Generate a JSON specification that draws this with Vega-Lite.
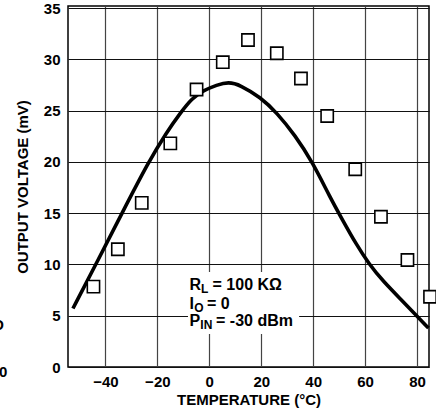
{
  "$schema": "https://vega.github.io/schema/vega-lite/v6.json",
  "width": 361,
  "height": 361,
  "autosize": {"type": "none"},
  "padding": {"left": 68, "top": 6, "right": 7, "bottom": 46},
  "background": "white",
  "config": {
    "font": "Liberation Sans",
    "view": {"stroke": "black", "strokeWidth": 1.5},
    "axis": {
      "labelFont": "Liberation Sans", "labelFontWeight": "bold", "labelFontSize": 15, "labelColor": "black",
      "titleFont": "Liberation Sans", "titleFontWeight": "bold", "titleFontSize": 15, "titleColor": "black",
      "ticks": false, "domain": false, "grid": true
    }
  },
  "datasets": {
    "measured": [
      {"temp": -44.6, "mv": 7.83}, {"temp": -35.2, "mv": 11.48}, {"temp": -26.0, "mv": 16.0},
      {"temp": -15.0, "mv": 21.81}, {"temp": -4.9, "mv": 27.06}, {"temp": 5.2, "mv": 29.72},
      {"temp": 14.9, "mv": 31.88}, {"temp": 26.0, "mv": 30.59}, {"temp": 35.3, "mv": 28.13},
      {"temp": 45.4, "mv": 24.47}, {"temp": 56.2, "mv": 19.28}, {"temp": 66.1, "mv": 14.65},
      {"temp": 76.3, "mv": 10.43}, {"temp": 85.0, "mv": 6.85}
    ],
    "curve": [
      {"temp": -52.5, "mv": 5.7}, {"temp": -43.7, "mv": 10.0}, {"temp": -33.6, "mv": 15.0},
      {"temp": -23.4, "mv": 20.0}, {"temp": -16.4, "mv": 22.9}, {"temp": -11.2, "mv": 24.75},
      {"temp": -6.7, "mv": 26.2}, {"temp": -2.3, "mv": 26.95}, {"temp": 2.9, "mv": 27.5},
      {"temp": 7.4, "mv": 27.8}, {"temp": 11.9, "mv": 27.5}, {"temp": 19.7, "mv": 26.3},
      {"temp": 26.0, "mv": 24.8}, {"temp": 33.0, "mv": 22.6}, {"temp": 39.7, "mv": 20.0},
      {"temp": 46.6, "mv": 16.5}, {"temp": 51.4, "mv": 14.3}, {"temp": 56.5, "mv": 12.0},
      {"temp": 61.6, "mv": 10.0}, {"temp": 66.8, "mv": 8.4}, {"temp": 74.5, "mv": 6.4},
      {"temp": 79.6, "mv": 5.05}, {"temp": 84.4, "mv": 3.8}
    ],
    "one": [{}]
  },
  "encoding": {
    "x": {"type": "quantitative",
      "scale": {"domain": [-54.4, 84.6], "nice": false, "zero": false},
      "axis": {"values": [-40, -20, 0, 20, 40, 60, 80], "title": "TEMPERATURE (°C)", "labelPadding": 7, "titlePadding": 3, "gridColor": "#444", "gridWidth": 1.2}},
    "y": {"type": "quantitative",
      "scale": {"domain": [0, 35.2], "nice": false},
      "axis": {"values": [0, 5, 10, 15, 20, 25, 30, 35], "title": "OUTPUT VOLTAGE (mV)", "labelPadding": 8, "titlePadding": 13, "gridColor": "#111", "gridWidth": 1}}
  },
  "layer": [
    {
      "data": {"name": "one"},
      "mark": {"type": "rect", "fill": "white"},
      "encoding": {"x": {"datum": -8.2}, "x2": {"datum": 34.6}, "y": {"datum": 3.22}, "y2": {"datum": 9.26}}
    },
    {
      "data": {"name": "curve"},
      "mark": {"type": "line", "color": "black", "strokeWidth": 3.6, "interpolate": "basis", "clip": false},
      "encoding": {"x": {"field": "temp"}, "y": {"field": "mv"}}
    },
    {
      "data": {"name": "measured"},
      "mark": {"type": "point", "shape": "square", "size": 150, "filled": false, "fill": "white", "fillOpacity": 1, "stroke": "black", "strokeWidth": 1.6, "opacity": 1, "clip": false},
      "encoding": {"x": {"field": "temp"}, "y": {"field": "mv"}}
    },
    {"data": {"name": "one"}, "mark": {"type": "text", "align": "left", "baseline": "alphabetic", "fontSize": 16, "fontWeight": "bold", "dx": 0},
     "encoding": {"x": {"datum": -7.6}, "y": {"datum": 7.556}, "text": {"value": "R"}}},
    {"data": {"name": "one"}, "mark": {"type": "text", "align": "left", "baseline": "alphabetic", "fontSize": 12, "fontWeight": "bold", "dx": 11.5, "dy": 3},
     "encoding": {"x": {"datum": -7.6}, "y": {"datum": 7.556}, "text": {"value": "L"}}},
    {"data": {"name": "one"}, "mark": {"type": "text", "align": "left", "baseline": "alphabetic", "fontSize": 16, "fontWeight": "bold", "dx": 23},
     "encoding": {"x": {"datum": -7.6}, "y": {"datum": 7.556}, "text": {"value": "= 100 KΩ"}}},
    {"data": {"name": "one"}, "mark": {"type": "text", "align": "left", "baseline": "alphabetic", "fontSize": 16, "fontWeight": "bold", "dx": 0},
     "encoding": {"x": {"datum": -7.6}, "y": {"datum": 5.684}, "text": {"value": "I"}}},
    {"data": {"name": "one"}, "mark": {"type": "text", "align": "left", "baseline": "alphabetic", "fontSize": 12, "fontWeight": "bold", "dx": 4.6, "dy": 3},
     "encoding": {"x": {"datum": -7.6}, "y": {"datum": 5.684}, "text": {"value": "O"}}},
    {"data": {"name": "one"}, "mark": {"type": "text", "align": "left", "baseline": "alphabetic", "fontSize": 16, "fontWeight": "bold", "dx": 17.5},
     "encoding": {"x": {"datum": -7.6}, "y": {"datum": 5.684}, "text": {"value": "= 0"}}},
    {"data": {"name": "one"}, "mark": {"type": "text", "align": "left", "baseline": "alphabetic", "fontSize": 16, "fontWeight": "bold", "dx": 0},
     "encoding": {"x": {"datum": -7.6}, "y": {"datum": 4.0}, "text": {"value": "P"}}},
    {"data": {"name": "one"}, "mark": {"type": "text", "align": "left", "baseline": "alphabetic", "fontSize": 12, "fontWeight": "bold", "dx": 10.8, "dy": 3},
     "encoding": {"x": {"datum": -7.6}, "y": {"datum": 4.0}, "text": {"value": "IN"}}},
    {"data": {"name": "one"}, "mark": {"type": "text", "align": "left", "baseline": "alphabetic", "fontSize": 16, "fontWeight": "bold", "dx": 26.5},
     "encoding": {"x": {"datum": -7.6}, "y": {"datum": 4.0}, "text": {"value": "= -30 dBm"}}},
    {"data": {"name": "one"}, "mark": {"type": "text", "align": "right", "baseline": "alphabetic", "fontSize": 15, "fontWeight": "bold"},
     "encoding": {"x": {"datum": -77.8}, "y": {"datum": -0.975}, "text": {"value": "0"}}},
    {"data": {"name": "one"}, "mark": {"type": "text", "align": "center", "baseline": "alphabetic", "fontSize": 15, "fontWeight": "bold"},
     "encoding": {"x": {"datum": -81.3}, "y": {"datum": 3.61}, "text": {"value": "O"}}}
  ]
}
